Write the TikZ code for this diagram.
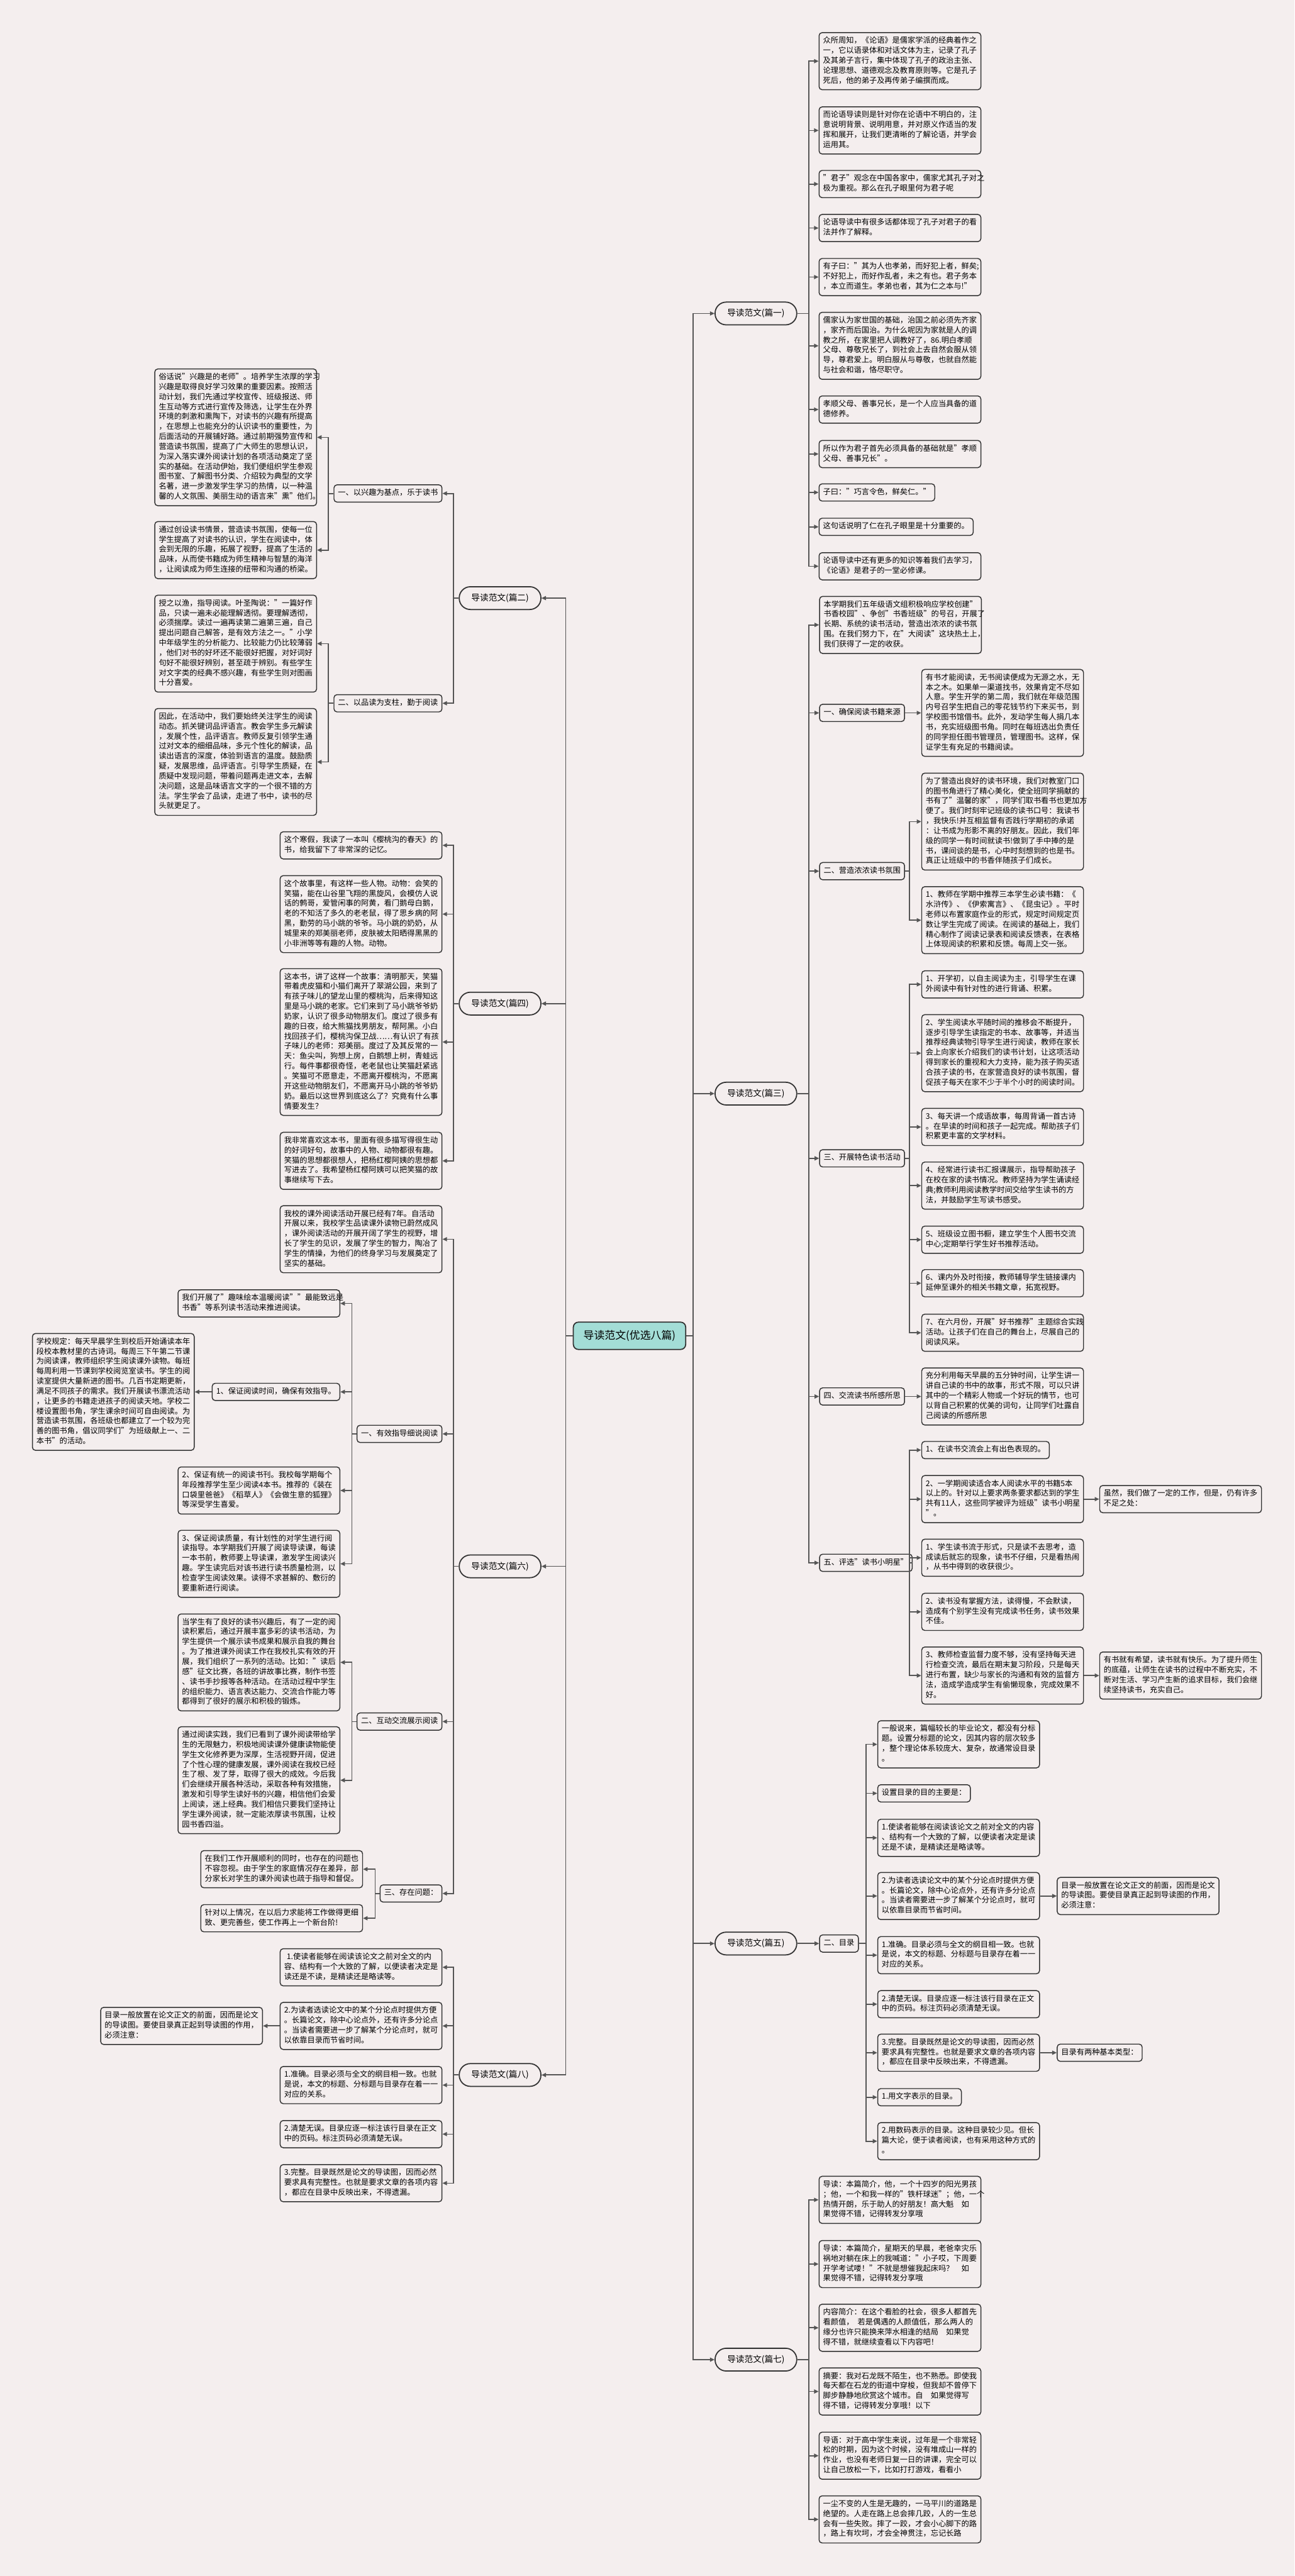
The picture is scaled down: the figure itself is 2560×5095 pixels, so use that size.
\documentclass[tikz,border=0pt]{standalone}
\usepackage{fontspec}
\setmainfont{Noto Sans CJK SC}
\usetikzlibrary{arrows.meta}
\definecolor{bg}{HTML}{F4EEEE}
\definecolor{lc}{HTML}{333333}
\definecolor{cc}{HTML}{555555}
\definecolor{rootfill}{HTML}{A3DDD6}
\newcommand\fs{\fontsize{7.6pt}{9.85pt}\selectfont}
\begin{document}
\begin{tikzpicture}[x=0.5pt,y=-0.5pt,
 tb/.style={draw=lc,line width=0.9pt,rounded corners=3pt,fill=bg,font=\fs,align=left,inner xsep=4pt,inner ysep=3.6pt,execute at begin node=\strut,execute at end node=\strut},
 wb/.style={tb,text width=152pt},
 pill/.style={draw=lc,line width=1.1pt,rounded corners=11pt,fill=bg,font=\fontsize{8.5pt}{10pt}\selectfont,minimum height=22.5pt,inner xsep=12pt},
 rootn/.style={draw=lc,line width=1.1pt,rounded corners=5pt,fill=rootfill,font=\fontsize{10.5pt}{12pt}\selectfont,minimum height=27pt,inner xsep=10pt},
 conn/.style={draw=cc,line width=1.1pt,-{Triangle[length=4.5pt,width=4pt]}}]
\fill[bg] (0,0) rectangle (2560,5095);
\useasboundingbox (0,0) rectangle (2560,5095);
% trunk x positions
\coordinate (tR) at (1600,0);
\coordinate (t3) at (1799,0);
\coordinate (t5) at (1713,0);
\coordinate (tL) at (897,0);
\coordinate (t2) at (649,0);
\coordinate (t6) at (696,0);
\coordinate (t6c) at (742,0);

\node[rootn] (root) at (1245,2642) {导读范文(优选八篇)};
\node[pill] (p1) at (1495,620) {导读范文(篇一)};
\node[pill] (p3) at (1495,2163) {导读范文(篇三)};
\node[pill] (p5) at (1495,3844) {导读范文(篇五)};
\node[pill] (p7) at (1495,4667) {导读范文(篇七)};
\node[pill] (p2) at (989,1183) {导读范文(篇二)};
\node[pill] (p4) at (989,1985) {导读范文(篇四)};
\node[pill] (p6) at (989,3098) {导读范文(篇六)};
\node[pill] (p8) at (989,4104) {导读范文(篇八)};

% ---------- 篇一 ----------
\node[wb,anchor=west] (a1) at (1619,121) {众所周知，《论语》是儒家学派的经典着作之\\一，它以语录体和对话文体为主，记录了孔子\\及其弟子言行，集中体现了孔子的政治主张、\\论理思想、道德观念及教育原则等。它是孔子\\死后，他的弟子及再传弟子编撰而成。};
\node[wb,anchor=west] (a2) at (1619,258) {而论语导读则是针对你在论语中不明白的，注\\意说明背景、说明用意，并对原义作适当的发\\挥和展开，让我们更清晰的了解论语，并学会\\运用其。};
\node[wb,anchor=west] (a3) at (1619,364) {"君子"观念在中国各家中，儒家尤其孔子对之\\极为重视。那么在孔子眼里何为君子呢};
\node[wb,anchor=west] (a4) at (1619,451) {论语导读中有很多话都体现了孔子对君子的看\\法并作了解释。};
\node[wb,anchor=west] (a5) at (1619,548) {有子曰："其为人也孝弟，而好犯上者，鲜矣;\\不好犯上，而好作乱者，未之有也。君子务本\\，本立而道生。孝弟也者，其为仁之本与!"};
\node[wb,anchor=west] (a6) at (1619,684) {儒家认为家世国的基础，治国之前必须先齐家\\，家齐而后国治。为什么呢因为家就是人的调\\教之所，在家里把人调教好了，86.明白孝顺\\父母、尊敬兄长了，到社会上去自然会服从领\\导，尊君爱上。明白服从与尊敬，也就自然能\\与社会和谐，恪尽职守。};
\node[wb,anchor=west] (a7) at (1619,810) {孝顺父母、善事兄长，是一个人应当具备的道\\德修养。};
\node[wb,anchor=west] (a8) at (1619,898) {所以作为君子首先必须具备的基础就是"孝顺\\父母、善事兄长"。};
\node[tb,anchor=west] (a9) at (1619,974) {子曰："巧言令色，鲜矣仁。"};
\node[tb,anchor=west] (a10) at (1619,1042) {这句话说明了仁在孔子眼里是十分重要的。};
\node[wb,anchor=west] (a11) at (1619,1120) {论语导读中还有更多的知识等着我们去学习，\\《论语》是君子的一堂必修课。};
\foreach \c in {a1,a2,a3,a4,a5,a6,a7,a8,a9,a10,a11}
  \draw[conn] (p1.east) -- (p1.east -| tR) |- (\c.west);

% ---------- 篇三 ----------
\node[wb,anchor=west] (i3) at (1620,1236) {本学期我们五年级语文组积极响应学校创建"\\书香校园"、争创"书香班级"的号召，开展了\\长期、系统的读书活动，营造出浓浓的读书氛\\围。在我们努力下，在"大阅读"这块热土上，\\我们获得了一定的收获。};
\node[tb,anchor=west] (s31) at (1620,1410) {一、确保阅读书籍来源};
\node[wb,anchor=west] (c31) at (1822,1410) {有书才能阅读，无书阅读便成为无源之水，无\\本之木。如果单一渠道找书，效果肯定不尽如\\人意。学生开学的第二周，我们就在年级范围\\内号召学生把自己的零花钱节约下来买书，到\\学校图书馆借书。此外，发动学生每人捐几本\\书，充实班级图书角。同时在每班选出负责任\\的同学担任图书管理员，管理图书。这样，保\\证学生有充足的书籍阅读。};
\node[tb,anchor=west] (s32) at (1620,1723) {二、营造浓浓读书氛围};
\node[wb,anchor=west] (c32a) at (1822,1625) {为了营造出良好的读书环境，我们对教室门口\\的图书角进行了精心美化，使全班同学捐献的\\书有了"温馨的家"，同学们取书看书也更加方\\便了。我们时刻牢记班级的读书口号：我读书\\，我快乐!并互相监督有否践行学期初的承诺\\：让书成为形影不离的好朋友。因此，我们年\\级的同学一有时间就读书!做到了手中捧的是\\书，课间谈的是书，心中时刻想到的也是书。\\真正让班级中的书香伴随孩子们成长。};
\node[wb,anchor=west] (c32b) at (1822,1820) {1、教师在学期中推荐三本学生必读书籍：《\\水浒传》、《伊索寓言》、《昆虫记》。平时\\老师以布置家庭作业的形式，规定时间规定页\\数让学生完成了阅读。在阅读的基础上，我们\\精心制作了阅读记录表和阅读反馈表，在表格\\上体现阅读的积累和反馈。每周上交一张。};
\node[tb,anchor=west] (s33) at (1620,2291) {三、开展特色读书活动};
\node[wb,anchor=west] (c33a) at (1822,1947) {1、开学初，以自主阅读为主，引导学生在课\\外阅读中有针对性的进行背诵、积累。};
\node[wb,anchor=west] (c33b) at (1822,2083) {2、学生阅读水平随时间的推移会不断提升，\\逐步引导学生读指定的书本、故事等，并适当\\推荐经典读物引导学生进行阅读，教师在家长\\会上向家长介绍我们的读书计划，让这项活动\\得到家长的重视和大力支持，能为孩子购买适\\合孩子读的书，在家营造良好的读书氛围，督\\促孩子每天在家不少于半个小时的阅读时间。};
\node[wb,anchor=west] (c33c) at (1822,2229) {3、每天讲一个成语故事，每周背诵一首古诗\\。在早读的时间和孩子一起完成。帮助孩子们\\积累更丰富的文学材料。};
\node[wb,anchor=west] (c33d) at (1822,2345) {4、经常进行读书汇报课展示，指导帮助孩子\\在校在家的读书情况。教师坚持为学生诵读经\\典;教师利用阅读教学时间交给学生读书的方\\法，并鼓励学生写读书感受。};
\node[wb,anchor=west] (c33e) at (1822,2452) {5、班级设立图书橱，建立学生个人图书交流\\中心;定期举行学生好书推荐活动。};
\node[wb,anchor=west] (c33f) at (1822,2538) {6、课内外及时衔接，教师辅导学生链接课内\\延伸至课外的相关书籍文章，拓宽视野。};
\node[wb,anchor=west] (c33g) at (1822,2636) {7、在六月份，开展"好书推荐"主题综合实践\\活动。让孩子们在自己的舞台上，尽展自己的\\阅读风采。};
\node[tb,anchor=west] (s34) at (1620,2762) {四、交流读书所感所思};
\node[wb,anchor=west] (c34) at (1822,2762) {充分利用每天早晨的五分钟时间，让学生讲一\\讲自己读的书中的故事，形式不限，可以只讲\\其中的一个精彩人物或一个好玩的情节，也可\\以背自己积累的优美的词句，让同学们吐露自\\己阅读的所感所思};
\node[tb,anchor=west] (s35) at (1620,3091) {五、评选"读书小明星"};
\node[tb,anchor=west] (c35a) at (1822,2868) {1、在读书交流会上有出色表现的。};
\node[wb,anchor=west] (c35b) at (1822,2965) {2、一学期阅读适合本人阅读水平的书籍5本\\以上的。针对以上要求两条要求都达到的学生\\共有11人，这些同学被评为班级"读书小明星\\"。};
\node[wb,anchor=west] (r35a) at (2174,2965) {虽然，我们做了一定的工作，但是，仍有许多\\不足之处：};
\node[wb,anchor=west] (c35c) at (1822,3081) {1、学生读书流于形式，只是读不去思考，造\\成读后就忘的现象，读书不仔细，只是看热闹\\，从书中得到的收获很少。};
\node[wb,anchor=west] (c35d) at (1822,3188) {2、读书没有掌握方法，读得慢，不会默读，\\造成有个别学生没有完成读书任务，读书效果\\不佳。};
\node[wb,anchor=west] (c35e) at (1822,3314) {3、教师检查监督力度不够，没有坚持每天进\\行检查交流，最后在期末复习阶段，只是每天\\进行布置，缺少与家长的沟通和有效的监督方\\法，造成学造成学生有偷懒现象，完成效果不\\好。};
\node[wb,anchor=west] (r35b) at (2174,3314) {有书就有希望，读书就有快乐。为了提升师生\\的底蕴，让师生在读书的过程中不断充实，不\\断对生活、学习产生新的追求目标，我们会继\\续坚持读书，充实自己。};
\foreach \c in {i3,s31,s32,s33,s34,s35}
  \draw[conn] (p3.east) -- (p3.east -| tR) |- (\c.west);
\draw[conn] (s31.east) -- (c31.west);
\draw[conn] (s34.east) -- (c34.west);
\foreach \c in {c32a,c32b}
  \draw[conn] (s32.east) -- (s32.east -| t3) |- (\c.west);
\foreach \c in {c33a,c33b,c33c,c33d,c33e,c33f,c33g}
  \draw[conn] (s33.east) -- (s33.east -| t3) |- (\c.west);
\foreach \c in {c35a,c35b,c35c,c35d,c35e}
  \draw[conn] (s35.east) -- (s35.east -| t3) |- (\c.west);
\draw[conn] (c35b.east) -- (r35a.west);
\draw[conn] (c35e.east) -- (r35b.west);

% ---------- 篇五 ----------
\node[tb,anchor=west] (s5) at (1620,3844) {二、目录};
\node[wb,anchor=west] (e1) at (1735,3450) {一般说来，篇幅较长的毕业论文，都没有分标\\题。设置分标题的论文，因其内容的层次较多\\，整个理论体系较庞大、复杂，故通常设目录\\。};
\node[tb,anchor=west] (e2) at (1735,3547) {设置目录的目的主要是：};
\node[wb,anchor=west] (e3) at (1735,3635) {1.使读者能够在阅读该论文之前对全文的内容\\、结构有一个大致的了解，以便读者决定是读\\还是不读，是精读还是略读等。};
\node[wb,anchor=west] (e4) at (1735,3750) {2.为读者选读论文中的某个分论点时提供方便\\。长篇论文，除中心论点外，还有许多分论点\\。当读者需要进一步了解某个分论点时，就可\\以依靠目录而节省时间。};
\node[wb,anchor=west] (r5a) at (2090,3750) {目录一般放置在论文正文的前面，因而是论文\\的导读图。要使目录真正起到导读图的作用，\\必须注意：};
\node[wb,anchor=west] (e5) at (1735,3867) {1.准确。目录必须与全文的纲目相一致。也就\\是说，本文的标题、分标题与目录存在着一一\\对应的关系。};
\node[wb,anchor=west] (e6) at (1735,3964) {2.清楚无误。目录应逐一标注该行目录在正文\\中的页码。标注页码必须清楚无误。};
\node[wb,anchor=west] (e7) at (1735,4060) {3.完整。目录既然是论文的导读图，因而必然\\要求具有完整性。也就是要求文章的各项内容\\，都应在目录中反映出来，不得遗漏。};
\node[tb,anchor=west] (r5b) at (2090,4060) {目录有两种基本类型：};
\node[tb,anchor=west] (e8) at (1735,4148) {1.用文字表示的目录。};
\node[wb,anchor=west] (e9) at (1735,4235) {2.用数码表示的目录。这种目录较少见。但长\\篇大论，便于读者阅读，也有采用这种方式的\\。};
\draw[conn] (p5.east) -- (s5.west);
\foreach \c in {e1,e2,e3,e4,e5,e6,e7,e8,e9}
  \draw[conn] (s5.east) -- (s5.east -| t5) |- (\c.west);
\draw[conn] (e4.east) -- (r5a.west);
\draw[conn] (e7.east) -- (r5b.west);

% ---------- 篇七 ----------
\node[wb,anchor=west] (g1) at (1619,4351) {导读：本篇简介，他，一个十四岁的阳光男孩\\；他，一个和我一样的"铁杆球迷"；他，一个\\热情开朗，乐于助人的好朋友！高大魁\hspace{1em}如\\果觉得不错，记得转发分享哦};
\node[wb,anchor=west] (g2) at (1619,4478) {导读：本篇简介，星期天的早晨，老爸幸灾乐\\祸地对躺在床上的我喊道："小子哎，下周要\\开学考试喽！"不就是想催我起床吗？\hspace{1em}如\\果觉得不错，记得转发分享哦};
\node[wb,anchor=west] (g3) at (1619,4604) {内容简介：在这个看脸的社会，很多人都首先\\看颜值，\hspace{0.5em}若是偶遇的人颜值低，那么两人的\\缘分也许只能换来萍水相逢的结局\hspace{1em}如果觉\\得不错，就继续查看以下内容吧！};
\node[wb,anchor=west] (g4) at (1619,4730) {摘要：我对石龙既不陌生，也不熟悉。即使我\\每天都在石龙的街道中穿梭，但我却不曾停下\\脚步静静地欣赏这个城市。自\hspace{1em}如果觉得写\\得不错，记得转发分享哦！以下};
\node[wb,anchor=west] (g5) at (1619,4857) {导语：对于高中学生来说，过年是一个非常轻\\松的时期，因为这个时候，没有堆成山一样的\\作业，也没有老师日复一日的讲课，完全可以\\让自己放松一下，比如打打游戏，看看小};
\node[wb,anchor=west] (g6) at (1619,4983) {一尘不变的人生是无趣的，一马平川的道路是\\绝望的。人走在路上总会摔几跤，人的一生总\\会有一些失败。摔了一跤，才会小心脚下的路\\，路上有坎坷，才会全神贯注，忘记长路};
\foreach \c in {g1,g2,g3,g4,g5,g6}
  \draw[conn] (p7.east) -- (p7.east -| tR) |- (\c.west);

% ---------- 篇二 ----------
\node[tb,anchor=east] (s21) at (875,976) {一、以兴趣为基点，乐于读书};
\node[wb,anchor=east] (d21a) at (627,865) {俗话说"兴趣是的老师"。培养学生浓厚的学习\\兴趣是取得良好学习效果的重要因素。按照活\\动计划，我们先通过学校宣传、班级报送、师\\生互动等方式进行宣传及筛选，让学生在外界\\环境的刺激和熏陶下，对读书的兴趣有所提高\\，在思想上也能充分的认识读书的重要性，为\\后面活动的开展铺好路。通过前期强势宣传和\\营造读书氛围，提高了广大师生的思想认识，\\为深入落实课外阅读计划的各项活动奠定了坚\\实的基础。在活动伊始，我们便组织学生参观\\图书室、了解图书分类、介绍较为典型的文学\\名著，进一步激发学生学习的热情，以一种温\\馨的人文氛围、美丽生动的语言来"熏"他们。};
\node[wb,anchor=east] (d21b) at (627,1088) {通过创设读书情景，营造读书氛围，使每一位\\学生提高了对读书的认识，学生在阅读中，体\\会到无限的乐趣，拓展了视野，提高了生活的\\品味，从而使书籍成为师生精神与智慧的海洋\\，让阅读成为师生连接的纽带和沟通的桥梁。};
\node[tb,anchor=east] (s22) at (875,1391) {二、以品读为支柱，勤于阅读};
\node[wb,anchor=east] (d22a) at (627,1273) {授之以渔，指导阅读。叶圣陶说："一篇好作\\品，只读一遍未必能理解透彻。要理解透彻，\\必须揣摩。读过一遍再读第二遍第三遍，自己\\提出问题自己解答，是有效方法之一。"小学\\中年级学生的分析能力、比较能力仍比较薄弱\\，他们对书的好坏还不能很好把握，对好词好\\句好不能很好辨别，甚至疏于辨别。有些学生\\对文字类的经典不感兴趣，有些学生则对图画\\十分喜爱。};
\node[wb,anchor=east] (d22b) at (627,1507) {因此，在活动中，我们要始终关注学生的阅读\\动态。抓关键词品评语言。教会学生多元解读\\，发展个性，品评语言。教师反复引领学生通\\过对文本的细细品味，多元个性化的解读，品\\读出语言的深度，体验到语言的温度。鼓励质\\疑，发展思维，品评语言。引导学生质疑，在\\质疑中发现问题，带着问题再走进文本，去解\\决问题，这是品味语言文字的一个很不错的方\\法。学生学会了品读，走进了书中，读书的尽\\头就更足了。};
\foreach \c in {s21,s22}
  \draw[conn] (p2.west) -- (p2.west -| tL) |- (\c.east);
\foreach \c in {d21a,d21b}
  \draw[conn] (s21.west) -- (s21.west -| t2) |- (\c.east);
\foreach \c in {d22a,d22b}
  \draw[conn] (s22.west) -- (s22.west -| t2) |- (\c.east);

% ---------- 篇四 ----------
\node[wb,anchor=east] (h1) at (875,1672) {这个寒假，我读了一本叫《樱桃沟的春天》的\\书，给我留下了非常深的记忆。};
\node[wb,anchor=east] (h2) at (875,1808) {这个故事里，有这样一些人物。动物：会笑的\\笑猫，能在山谷里飞翔的黑旋风，会模仿人说\\话的鹩哥，爱管闲事的阿黄，看门鹅母白鹅，\\老的不知活了多久的老老鼠，得了思乡病的阿\\黑，勤劳的马小跳的爷爷。马小跳的奶奶，从\\城里来的郑美丽老师，皮肤被太阳晒得黑黑的\\小非洲等等有趣的人物。动物。};
\node[wb,anchor=east] (h3) at (875,2061) {这本书，讲了这样一个故事：清明那天，笑猫\\带着虎皮猫和小猫们离开了翠湖公园，来到了\\有孩子味儿的望龙山里的樱桃沟，后来得知这\\里是马小跳的老家。它们来到了马小跳爷爷奶\\奶家，认识了很多动物朋友们。度过了很多有\\趣的日夜，给大熊猫找男朋友，帮阿黑。小白\\找回孩子们，樱桃沟保卫战……有认识了有孩\\子味儿的老师：郑美丽。度过了及其反常的一\\天：鱼尖叫，狗想上房，白鹅想上树，青蛙远\\行。每件事都很奇怪，老老鼠也让笑猫赶紧逃\\。笑猫可不愿意走，不愿离开樱桃沟，不愿离\\开这些动物朋友们，不愿离开马小跳的爷爷奶\\奶。最后以这世界到底这么了？究竟有什么事\\情要发生？};
\node[wb,anchor=east] (h4) at (875,2296) {我非常喜欢这本书，里面有很多描写得很生动\\的好词好句，故事中的人物、动物都很有趣。\\笑猫的思想都很想人，把杨红樱阿姨的思想都\\写进去了。我希望杨红樱阿姨可以把笑猫的故\\事继续写下去。};
\foreach \c in {h1,h2,h3,h4}
  \draw[conn] (p4.west) -- (p4.west -| tL) |- (\c.east);

% ---------- 篇六 ----------
\node[wb,anchor=east] (i6) at (875,2451) {我校的课外阅读活动开展已经有7年。自活动\\开展以来，我校学生品读课外读物已蔚然成风\\，课外阅读活动的开展开阔了学生的视野，增\\长了学生的见识，发展了学生的智力，陶冶了\\学生的情操，为他们的终身学习与发展奠定了\\坚实的基础。};
\node[tb,anchor=east] (s61) at (875,2836) {一、有效指导细说阅读};
\node[wb,anchor=east] (k1) at (673,2578) {我们开展了"趣味绘本温暖阅读""最能致远是\\书香"等系列读书活动来推进阅读。};
\node[tb,anchor=east] (k2) at (673,2753) {1、保证阅读时间，确保有效指导。};
\node[wb,anchor=east] (f61) at (385,2753) {学校规定：每天早晨学生到校后开始诵读本年\\段校本教材里的古诗词。每周三下午第二节课\\为阅读课，教师组织学生阅读课外读物。每班\\每周利用一节课到学校阅览室读书。学生的阅\\读室提供大量新进的图书。几百书定期更新，\\满足不同孩子的需求。我们开展读书漂流活动\\，让更多的书籍走进孩子的阅读天地。学校二\\楼设置图书角，学生课余时间可自由阅读。为\\营造读书氛围，各班级也都建立了一个较为完\\善的图书角，倡议同学们"为班级献上一、二\\本书"的活动。};
\node[wb,anchor=east] (k3) at (673,2948) {2、保证有统一的阅读书刊。我校每学期每个\\年段推荐学生至少阅读4本书。推荐的《装在\\口袋里爸爸》《稻草人》《会做生意的狐狸》\\等深受学生喜爱。};
\node[wb,anchor=east] (k4) at (673,3093) {3、保证阅读质量，有计划性的对学生进行阅\\读指导。本学期我们开展了阅读导读课，每读\\一本书前，教师要上导读课，激发学生阅读兴\\趣。学生读完后对该书进行读书质量检测，以\\检查学生阅读效果。读得不求甚解的、敷衍的\\要重新进行阅读。};
\node[tb,anchor=east] (s62) at (875,3405) {二、互动交流展示阅读};
\node[wb,anchor=east] (k5) at (673,3288) {当学生有了良好的读书兴趣后，有了一定的阅\\读积累后，通过开展丰富多彩的读书活动，为\\学生提供一个展示读书成果和展示自我的舞台\\。为了推进课外阅读工作在我校扎实有效的开\\展，我们组织了一系列的活动。比如："读后\\感"征文比赛，各班的讲故事比赛，制作书签\\、读书手抄报等各种活动。在活动过程中学生\\的组织能力、语言表达能力、交流合作能力等\\都得到了很好的展示和积极的锻炼。};
\node[wb,anchor=east] (k6) at (673,3521) {通过阅读实践，我们已看到了课外阅读带给学\\生的无限魅力，积极地阅读课外健康读物能使\\学生文化修养更为深厚，生活视野开阔，促进\\了个性心理的健康发展，课外阅读在我校已经\\生了根、发了芽，取得了很大的成效。今后我\\们会继续开展各种活动，采取各种有效措施，\\激发和引导学生读好书的兴趣，相信他们会爱\\上阅读，迷上经典。我们相信只要我们坚持让\\学生课外阅读，就一定能浓厚读书氛围，让校\\园书香四溢。};
\node[tb,anchor=east] (s63) at (875,3745) {三、存在问题：};
\node[wb,anchor=east] (k7) at (718,3697) {在我们工作开展顺利的同时，也存在的问题也\\不容忽视。由于学生的家庭情况存在差异，部\\分家长对学生的课外阅读也疏于指导和督促。};
\node[wb,anchor=east] (k8) at (718,3794) {针对以上情况，在以后力求能将工作做得更细\\致、更完善些，使工作再上一个新台阶!};
\foreach \c in {i6,s61,s62,s63}
  \draw[conn] (p6.west) -- (p6.west -| tL) |- (\c.east);
\foreach \c in {k1,k2,k3,k4}
  \draw[conn] (s61.west) -- (s61.west -| t6) |- (\c.east);
\draw[conn] (k2.west) -- (f61.east);
\foreach \c in {k5,k6}
  \draw[conn] (s62.west) -- (s62.west -| t6) |- (\c.east);
\foreach \c in {k7,k8}
  \draw[conn] (s63.west) -- (s63.west -| t6c) |- (\c.east);

% ---------- 篇八 ----------
\node[wb,anchor=east] (m1) at (875,3891) {~1.使读者能够在阅读该论文之前对全文的内\\容、结构有一个大致的了解，以便读者决定是\\读还是不读，是精读还是略读等。};
\node[wb,anchor=east] (m2) at (875,4007) {2.为读者选读论文中的某个分论点时提供方便\\。长篇论文，除中心论点外，还有许多分论点\\。当读者需要进一步了解某个分论点时，就可\\以依靠目录而节省时间。};
\node[wb,anchor=east] (f8) at (520,4007) {目录一般放置在论文正文的前面，因而是论文\\的导读图。要使目录真正起到导读图的作用，\\必须注意：};
\node[wb,anchor=east] (m3) at (875,4124) {1.准确。目录必须与全文的纲目相一致。也就\\是说，本文的标题、分标题与目录存在着一一\\对应的关系。};
\node[wb,anchor=east] (m4) at (875,4221) {2.清楚无误。目录应逐一标注该行目录在正文\\中的页码。标注页码必须清楚无误。};
\node[wb,anchor=east] (m5) at (875,4318) {3.完整。目录既然是论文的导读图，因而必然\\要求具有完整性。也就是要求文章的各项内容\\，都应在目录中反映出来，不得遗漏。};
\foreach \c in {m1,m2,m3,m4,m5}
  \draw[conn] (p8.west) -- (p8.west -| tL) |- (\c.east);
\draw[conn] (m2.west) -- (f8.east);

% ---------- root ----------
\foreach \p in {p1,p3,p5,p7}
  \draw[conn] (root.east) -- ++(14,0) |- (\p.west);
\foreach \p in {p2,p4,p6,p8}
  \draw[conn] (root.west) -- ++(-14,0) |- (\p.east);
\end{tikzpicture}
\end{document}
